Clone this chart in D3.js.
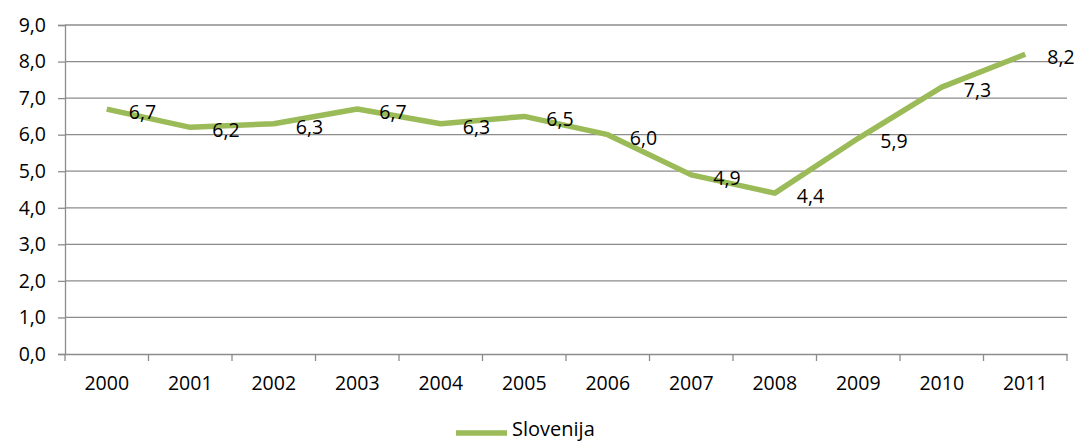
<!DOCTYPE html>
<html><head><meta charset="utf-8">
<script src="https://cdn.jsdelivr.net/npm/d3@7"></script>
<style>body{margin:0;background:#fff}svg{display:block}text{font-family:"Open Sans",sans-serif;fill:#000}</style>
</head><body><svg id="c" width="1081" height="443"></svg>
<script>
const years = ["2000","2001","2002","2003","2004","2005","2006","2007","2008","2009","2010","2011"];
const values = [6.7,6.2,6.3,6.7,6.3,6.5,6.0,4.9,4.4,5.9,7.3,8.2];
const yTicks = [0,1,2,3,4,5,6,7,8,9];
const seriesName = "Slovenija";

const svg = d3.select("#c");
const L = 65, R = 1067, T = 25, B = 354;
const x = d3.scaleBand().domain(years).range([L, R]);
const y = d3.scaleLinear().domain([0, 9]).range([B, T]);
const fmt = v => d3.format(".1f")(v).replace(".", ",");
const grey = "#8c8c8c";
const fs = "19.5px";

// gridlines
svg.append("g").selectAll("line").data(yTicks.filter(d => d > 0)).join("line")
  .attr("x1", L).attr("x2", R).attr("y1", d => y(d)).attr("y2", d => y(d))
  .attr("stroke", grey).attr("stroke-width", 1.3);

// y axis
const ya = svg.append("g").attr("transform", `translate(${L},0)`)
  .call(d3.axisLeft(y).tickValues(yTicks).tickFormat(fmt).tickSize(7).tickPadding(12));
ya.select(".domain").attr("stroke", grey).attr("stroke-width", 1.3);
ya.selectAll(".tick line").attr("stroke", grey).attr("stroke-width", 1.3);
ya.selectAll("text").style("font-size", fs).style("font-family", '"Open Sans",sans-serif');

// x axis
const xa = svg.append("g").attr("transform", `translate(0,${B})`)
  .call(d3.axisBottom(x).tickSize(0).tickPadding(22));
xa.select(".domain").attr("stroke", grey).attr("stroke-width", 1.3);
xa.selectAll("text").style("font-size", fs).style("font-family", '"Open Sans",sans-serif');
svg.append("g").selectAll("line").data(years.concat(["_end"])).join("line")
  .attr("x1", (d,i) => L + i * x.step()).attr("x2", (d,i) => L + i * x.step())
  .attr("y1", B).attr("y2", B + 7).attr("stroke", grey).attr("stroke-width", 1.3);

// line
const line = d3.line().x((d,i) => x(years[i]) + x.bandwidth()/2).y(d => y(d));
svg.append("path").datum(values).attr("d", line)
  .attr("fill", "none").attr("stroke", "#9bbb59").attr("stroke-width", 5.5).attr("stroke-linejoin", "round");

// labels
svg.append("g").selectAll("text").data(values).join("text")
  .attr("x", (d,i) => x(years[i]) + x.bandwidth()/2 + 22)
  .attr("y", d => y(d) + 10)
  .style("font-size", fs)
  .text(fmt);

// legend
svg.append("line").attr("x1", 456).attr("x2", 507).attr("y1", 433).attr("y2", 433)
  .attr("stroke", "#9bbb59").attr("stroke-width", 5.5);
svg.append("text").attr("x", 512).attr("y", 436).style("font-size", "20px").text(seriesName);
</script></body></html>
